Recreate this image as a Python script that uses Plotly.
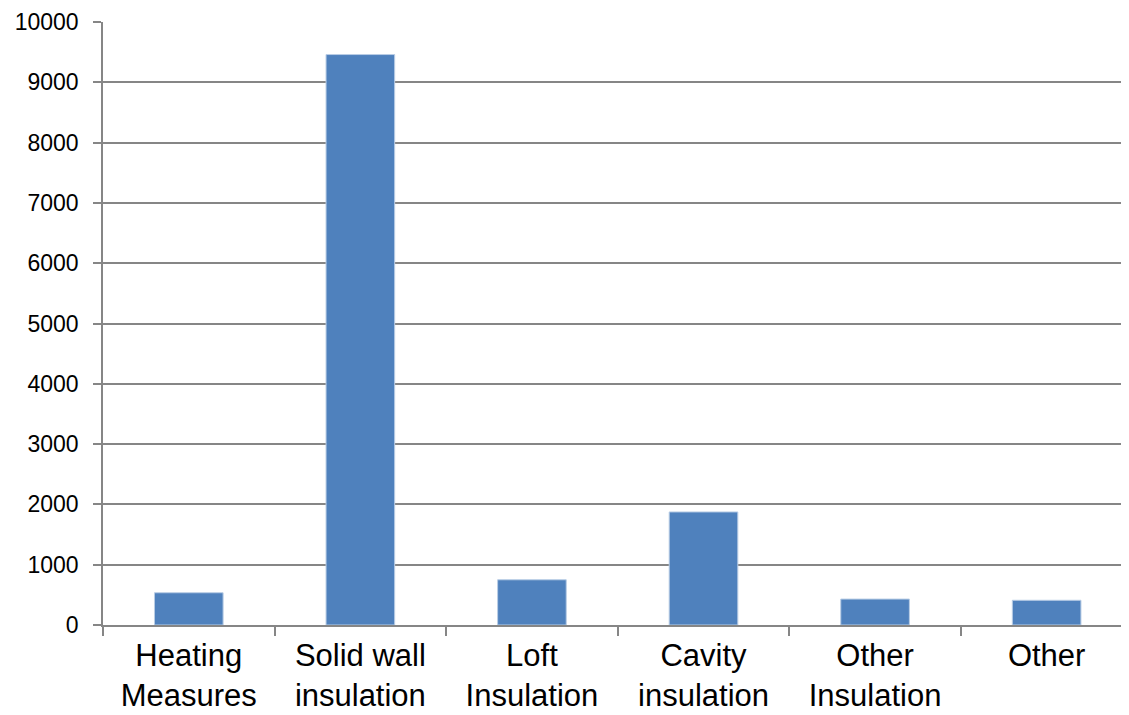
import plotly.graph_objects as go

categories = ["Heating<br>Measures", "Solid wall<br>insulation", "Loft<br>Insulation",
              "Cavity<br>insulation", "Other<br>Insulation", "Other"]
values = [535, 9460, 750, 1875, 430, 410]
y_ticks = [0, 1000, 2000, 3000, 4000, 5000, 6000, 7000, 8000, 9000, 10000]

fig = go.Figure(go.Bar(
    x=categories, y=values, width=0.4,
    marker=dict(color="#4F81BD", line=dict(color="#B9CDE5", width=1)),
))

grid = "#868686"
fig.update_layout(
    width=1121, height=707,
    margin=dict(l=95, r=0, t=14, b=90),
    paper_bgcolor="white", plot_bgcolor="white",
    showlegend=False,
    font=dict(family="Liberation Sans, Arial, sans-serif", color="black"),
)
fig.update_xaxes(
    type="category", range=[-0.5, 5.48], automargin=False,
    tickson="boundaries", ticks="outside", ticklen=9, tickcolor=grid, tickwidth=1.5,
    showline=True, linecolor=grid, linewidth=1.5, showgrid=False,
    tickfont=dict(size=31), ticklabelstandoff=2,
)
fig.update_yaxes(
    range=[0, 10000], tickvals=y_ticks, ticktext=[str(v) for v in y_ticks],
    ticks="outside", ticklen=8, tickcolor=grid, tickwidth=1.5,
    showline=True, linecolor=grid, linewidth=1.5, automargin=False,
    showgrid=True, gridcolor=grid, gridwidth=1.5, zeroline=False,
    tickfont=dict(size=23), ticklabelstandoff=10,
)

fig.write_html("out.html")
